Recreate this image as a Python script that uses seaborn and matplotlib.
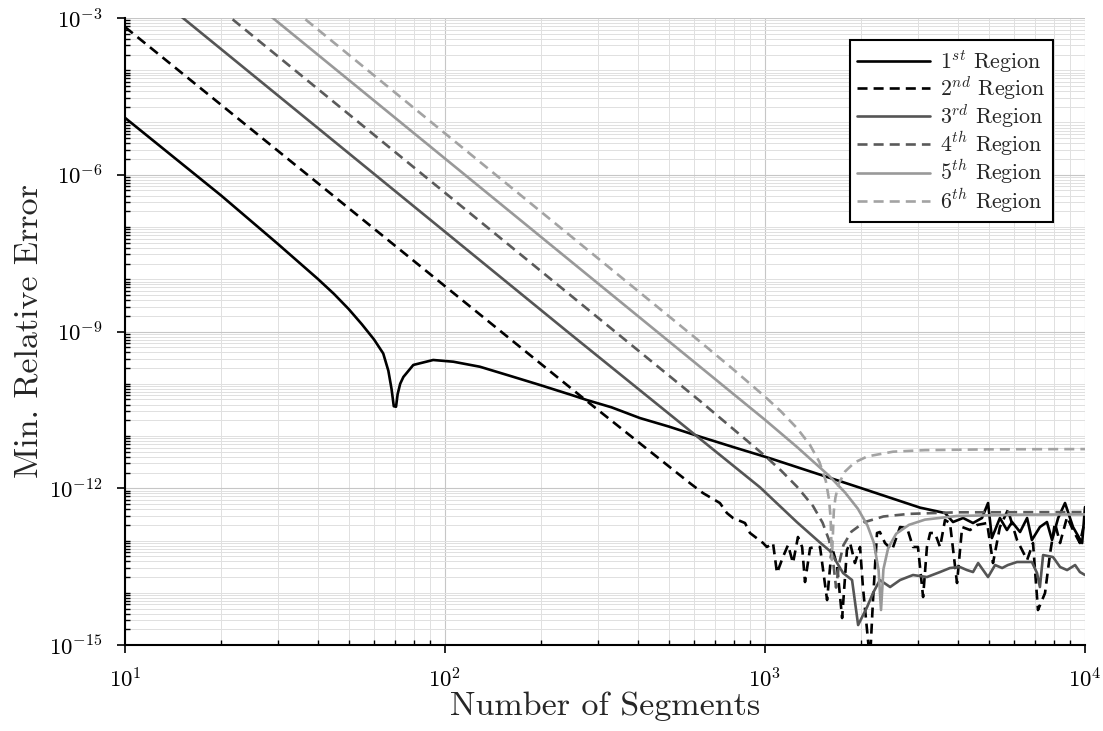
import numpy as np
import matplotlib
matplotlib.use("Agg")
import matplotlib.pyplot as plt
import seaborn as sns
from matplotlib import ticker

# ---------------- data (log10 of values) ----------------
r1_log_n = [1.000, 1.301, 1.477, 1.602, 1.653, 1.699, 1.740, 1.778, 1.807, 1.823, 1.833, 1.840,
            1.847, 1.852, 1.860, 1.870, 1.901, 1.963, 2.026, 2.109, 2.204, 2.297, 2.398, 2.443,
            2.52, 2.609, 2.70, 2.797, 2.9, 3.016, 3.297, 3.484,
            3.5625, 3.5875, 3.619, 3.65, 3.678, 3.697, 3.709, 3.734, 3.756, 3.772,
            3.797, 3.819, 3.834, 3.859, 3.881, 3.897, 3.916, 3.9375, 3.9625, 3.991, 4.0]
r1_log_err = [-4.91, -6.40, -7.32, -7.99, -8.28, -8.57, -8.86, -9.15, -9.42, -9.75, -10.10, -10.43,
              -10.44, -10.20, -10.00, -9.87, -9.64, -9.545, -9.578, -9.674, -9.85, -10.024, -10.22, -10.311,
              -10.45, -10.656, -10.82, -11.013, -11.21, -11.427, -11.99, -12.37,
              -12.474, -12.646, -12.569, -12.665, -12.569, -12.282, -12.952, -12.569, -12.799, -12.646,
              -12.837, -12.569, -12.990, -12.742, -12.646, -12.990, -12.569, -12.282, -12.742, -13.048, -12.359]

r2_log_n = [1.0, 2.443, 2.766, 2.806, 2.859, 2.881, 2.9, 2.9375, 2.953, 2.994,
            3.006, 3.025, 3.0375, 3.056, 3.072, 3.0875, 3.103, 3.116, 3.125, 3.141, 3.156, 3.172,
            3.194, 3.209, 3.225, 3.241, 3.256, 3.266, 3.281, 3.297, 3.306, 3.328, 3.3375, 3.35,
            3.359, 3.375, 3.397, 3.422, 3.444, 3.4625, 3.478, 3.494, 3.506, 3.516, 3.531, 3.547,
            3.5625, 3.578, 3.6, 3.616, 3.641, 3.6625, 3.694, 3.7125, 3.734, 3.759, 3.7875, 3.819,
            3.8375, 3.853, 3.875, 3.891, 3.906, 3.922, 3.944, 3.9625, 3.984, 4.0]
r2_log_err = [-3.172, -10.33, -11.905, -12.091, -12.282, -12.474, -12.569, -12.665, -12.856, -13.048,
              -13.124, -13.048, -13.622, -13.316, -13.086, -13.431, -12.933, -13.124, -13.794, -13.144, -13.124, -13.124,
              -14.139, -13.124, -13.469, -14.483, -13.182, -13.048, -13.431, -13.124, -13.890, -15.3, -14.139, -12.856,
              -12.837, -13.048, -13.182, -12.742, -12.761, -13.124, -13.124, -14.081, -13.124, -12.856, -12.856, -13.124,
              -12.608, -12.665, -13.813, -12.742, -12.799, -12.703, -12.665, -13.431, -12.742, -12.416, -12.990, -13.373,
              -13.048, -14.330, -14.005, -13.239, -12.665, -13.048, -12.550, -12.799, -13.048, -12.608]

r3_log_n = [1.0, 2.384, 2.984, 3.1, 3.172, 3.203, 3.244, 3.272, 3.291, 3.319, 3.3375, 3.359, 3.391,
            3.422, 3.4625, 3.506, 3.547, 3.578, 3.609, 3.631, 3.65, 3.666, 3.697, 3.719, 3.741,
            3.759, 3.7875, 3.834, 3.85, 3.859, 3.869, 3.9, 3.922, 3.944, 3.969, 3.984, 4.0]
r3_log_err = [-2.095, -9.01, -11.98, -12.65, -13.04, -13.2, -13.622, -13.756, -14.617, -14.273, -14.005, -13.756, -13.890,
              -13.756, -13.660, -13.699, -13.603, -13.526, -13.507, -13.565, -13.603, -13.431, -13.699, -13.469, -13.526,
              -13.469, -13.411, -13.411, -13.622, -13.890, -13.278, -13.316, -13.507, -13.565, -13.469, -13.603, -13.660]

r4_log_n = [1.0, 2.8, 3.0, 3.05, 3.1, 3.15, 3.18, 3.20, 3.213, 3.222, 3.232, 3.245, 3.27,
            3.31, 3.37, 3.45, 3.6, 4.0]
r4_log_err = [-1.345, -10.345, -11.38, -11.66, -11.97, -12.34, -12.66, -12.99, -13.41, -13.9, -13.43, -13.09, -12.83,
              -12.65, -12.54, -12.49, -12.46, -12.455]

r5_log_n = [1.0, 2.8, 3.0, 3.1, 3.2, 3.25, 3.29, 3.32, 3.34, 3.355, 3.3625, 3.37, 3.385,
            3.41, 3.45, 3.5, 3.6, 3.8, 4.0]
r5_log_err = [-0.69, -9.69, -10.69, -11.21, -11.76, -12.08, -12.39, -12.71, -13.04, -13.57, -14.33, -13.55, -13.14,
              -12.87, -12.70, -12.60, -12.53, -12.505, -12.50]

r6_log_n = [1.0, 2.8, 2.9, 3.0, 3.05, 3.1, 3.14, 3.17, 3.19, 3.20, 3.205, 3.209, 3.215, 3.22,
            3.23, 3.25, 3.28, 3.32, 3.4, 3.5, 3.7, 4.0]
r6_log_err = [-0.206, -9.21, -9.72, -10.247, -10.53, -10.85, -11.166, -11.496, -11.86, -12.21, -12.57, -13.37, -12.44, -12.18,
              -11.92, -11.68, -11.506, -11.39, -11.30, -11.27, -11.255, -11.25]

labels = [r"$1^{st}$ Region", r"$2^{nd}$ Region", r"$3^{rd}$ Region",
          r"$4^{th}$ Region", r"$5^{th}$ Region", r"$6^{th}$ Region"]
x_ticks = [1e1, 1e2, 1e3, 1e4]
y_ticks = [1e-15, 1e-12, 1e-9, 1e-6, 1e-3]

series = [(r1_log_n, r1_log_err), (r2_log_n, r2_log_err), (r3_log_n, r3_log_err),
          (r4_log_n, r4_log_err), (r5_log_n, r5_log_err), (r6_log_n, r6_log_err)]
colors = ["#000000", "#000000", "#555555", "#5a5a5a", "#999999", "#a3a3a3"]
dash = (0, (3.8, 2.3))
styles = ["-", dash, "-", dash, "-", dash]

# ---------------- style ----------------
sns.set_theme(style="white")
plt.rcParams.update({
    "font.family": ["cmr10", "DejaVu Serif"],
    "mathtext.fontset": "cm",
    "axes.formatter.use_mathtext": True,
    "axes.unicode_minus": False,
})

fig, ax = plt.subplots(figsize=(11.03, 7.31), dpi=100)
fig.subplots_adjust(left=0.1133, right=0.9837, bottom=0.1176, top=0.9754)
ax.set_xscale("log")
ax.set_yscale("log")

for (ln, le), c, ls, lab in zip(series, colors, styles, labels):
    sns.lineplot(x=10 ** np.array(ln), y=10 ** np.array(le), ax=ax, color=c,
                 linestyle=ls, linewidth=1.9, label=lab, estimator=None, sort=False)

ax.set_xlim(1e1, 1e4)
ax.set_ylim(1e-15, 1e-3)
ax.set_xticks(x_ticks)
ax.set_yticks(y_ticks)
ax.xaxis.set_minor_locator(ticker.LogLocator(base=10, subs=np.arange(2, 10), numticks=100))
ax.yaxis.set_minor_locator(ticker.LogLocator(base=10, subs=np.arange(1, 10), numticks=200))
ax.xaxis.set_minor_formatter(ticker.NullFormatter())
ax.yaxis.set_minor_formatter(ticker.NullFormatter())

ax.set_axisbelow(True)
ax.grid(which="major", color="#c6c6c6", linewidth=0.8)
ax.grid(which="minor", color="#e0e0e0", linewidth=0.7)

for s in ["top", "right"]:
    ax.spines[s].set_visible(False)
for s in ["left", "bottom"]:
    ax.spines[s].set_color("black")
    ax.spines[s].set_linewidth(1.5)

ax.tick_params(which="major", direction="out", length=6, width=1.2, labelsize=16.5,
               pad=10, top=False, right=False, left=True, bottom=True, colors="black")
ax.tick_params(which="minor", direction="in", length=3.5, width=1.0,
               top=False, right=False, left=True, bottom=True, colors="black")

ax.set_xlabel("Number of Segments", fontsize=24.5, labelpad=0)
ax.set_ylabel("Min. Relative Error", fontsize=24.5, labelpad=4)

leg = ax.legend(loc="upper right", bbox_to_anchor=(0.9667, 0.965), borderaxespad=0,
                fontsize=15.8, handlelength=3.3, handletextpad=0.45, labelspacing=0.0,
                frameon=True, fancybox=False, framealpha=1, borderpad=0.35)
leg.get_frame().set_edgecolor("black")
leg.get_frame().set_linewidth(1.5)

fig.savefig("out.png", dpi=100)
